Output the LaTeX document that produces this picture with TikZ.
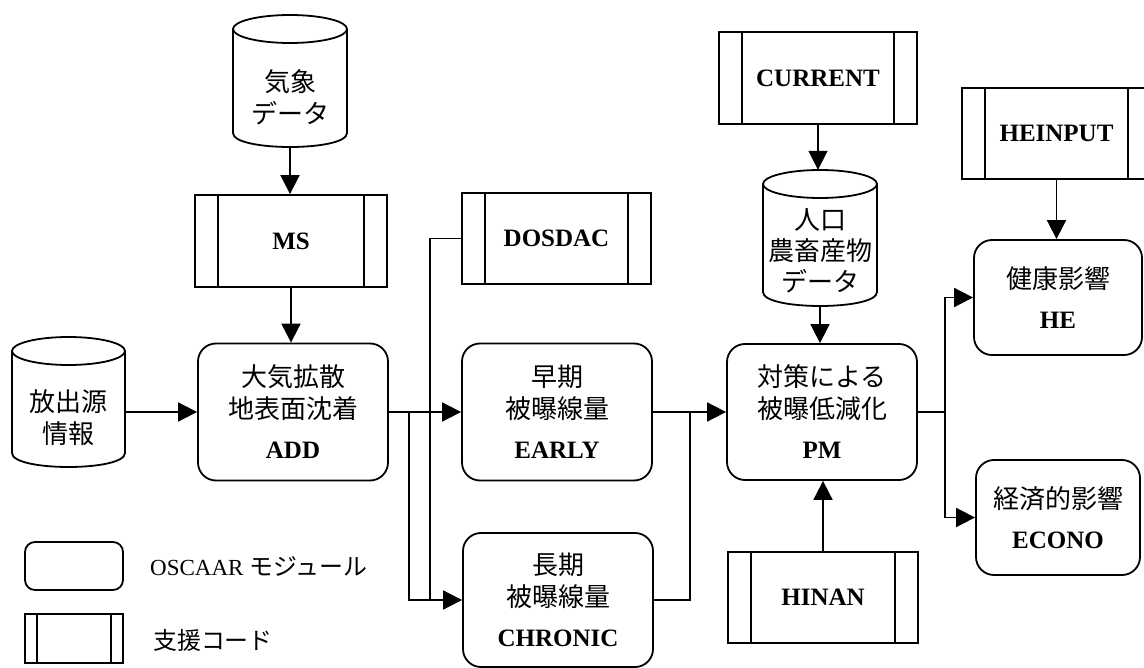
\documentclass[tikz,border=0pt]{standalone}
\usepackage{fontspec}
\setmainfont{Liberation Serif}
\newfontfamily\jp[Scale=1.04]{Noto Sans CJK JP}
\usetikzlibrary{arrows.meta,calc}
\tikzset{
 lw/.style={line width=1.8pt},
 mod/.style={draw, lw, rounded corners=18pt, align=center, inner sep=0pt, font=\bfseries\fontsize{25}{32}\selectfont},
 sup/.style={draw, lw, align=center, inner sep=0pt, font=\bfseries\fontsize{25}{30}\selectfont,
   path picture={\draw[lw] ([xshift=#1]path picture bounding box.north west) -- ([xshift=#1]path picture bounding box.south west)
     ([xshift=-#1]path picture bounding box.north east) -- ([xshift=-#1]path picture bounding box.south east);}},
 sup/.default=23pt,
 cyl/.style={inner sep=0pt, draw=none},
 cyltxt/.style={align=center, inner sep=0pt, font=\jp\fontsize{25}{32}\selectfont},
 legtxt/.style={anchor=west, inner sep=0pt, font=\fontsize{23}{28}\selectfont},
 arr/.style={lw, -{Triangle[length=19pt,width=19pt]}},
 con/.style={lw},
}
\newcommand\cylo[5]{%
 \draw[lw] ({(#1+#2)/2},{#3+#5}) ellipse [x radius={(#2-#1)/2}, y radius=#5];
 \draw[lw] (#1,{#3+#5}) -- (#1,{#4-#5}) .. controls (#1,{#4+#5/3}) and (#2,{#4+#5/3}) .. (#2,{#4-#5}) -- (#2,{#3+#5});}
\begin{document}
\begin{tikzpicture}[x=1pt,y=-1pt]
\useasboundingbox (0,0) rectangle (1144,668);
\clip (0,0) rectangle (1144,668);
% cylinders
\node[cyl, minimum width=114pt, minimum height=132pt] (met) at (290,81) {};
\cylo{233}{347}{15}{147}{14}
\node[cyltxt] (mett) at (290,97) {気象\\データ};
\node[cyl, minimum width=113pt, minimum height=130pt] (src) at (68.5,402) {};
\cylo{12}{125}{337}{467}{14}
\node[cyltxt] (srct) at (68.5,418) {放出源\\情報};
\node[cyl, minimum width=114pt, minimum height=136pt] (pop) at (820,238) {};
\cylo{763}{877}{170}{306}{14}
\node[cyltxt, font=\jp\fontsize{25}{31}\selectfont] (popt) at (820,251) {人口\\農畜産物\\データ};
% support codes
\node[sup, minimum width=192pt, minimum height=92pt] (ms) at (291,241) {MS};
\node[sup, minimum width=189pt, minimum height=91pt] (dosdac) at (556.5,238.5) {DOSDAC};
\node[sup, minimum width=198pt, minimum height=92pt] (current) at (818,78) {CURRENT};
\node[sup, minimum width=190pt, minimum height=91pt] (hinan) at (823,597.5) {HINAN};
\node[sup, minimum width=189pt, minimum height=91pt] (heinput) at (1056.5,133.5) {HEINPUT};
% modules
\node[mod, minimum width=190pt, minimum height=137pt] (add) at (293,412) {{\jp\mdseries 大気拡散}\\{\jp\mdseries 地表面沈着}\\[8pt]ADD};
\node[mod, minimum width=190pt, minimum height=137pt] (early) at (557,412) {{\jp\mdseries 早期}\\{\jp\mdseries 被曝線量}\\[8pt]EARLY};
\node[mod, minimum width=190pt, minimum height=134pt] (chronic) at (558,600) {{\jp\mdseries 長期}\\{\jp\mdseries 被曝線量}\\[8pt]CHRONIC};
\node[mod, minimum width=190pt, minimum height=136pt] (pm) at (822,412) {{\jp\mdseries 対策による}\\{\jp\mdseries 被曝低減化}\\[8pt]PM};
\node[mod, minimum width=168pt, minimum height=115pt] (he) at (1058,297.5) {{\jp\mdseries 健康影響}\\[8pt]HE};
\node[mod, minimum width=164pt, minimum height=115pt] (econo) at (1058,517.5) {{\jp\mdseries 経済的影響}\\[8pt]ECONO};
% legend
\node[mod, rounded corners=10pt, minimum width=98pt, minimum height=48pt] (legm) at (74,566) {};
\node[sup=12pt, minimum width=98pt, minimum height=49pt] (legs) at (74,638.5) {};
\node[legtxt] (legmt) at (150,566) {OSCAAR {\jp モジュール}};
\node[legtxt] (legst) at (153,640) {{\jp 支援コード}};
% junction coordinates
\coordinate (bx) at (409,412);
\coordinate (dx) at (430,412);
\coordinate (jx) at (690,412);
\coordinate (jr) at (945,412);
% connectors
\draw[arr] (met.south) -- (met.south |- ms.north);
\draw[arr] (ms.south) -- (ms.south |- add.north);
\draw[arr] (src.east |- add.west) -- (add.west);
\draw[arr] (add.east) -- (early.west);
\draw[arr] (bx) |- (chronic.west);
\draw[con] (dosdac.west) -| (dx |- chronic.west);
\draw[arr] (early.east) -- (pm.west);
\draw[con] (chronic.east) -| (jx);
\draw[arr] (current.south) -- (current.south |- pop.north);
\draw[arr] (pop.south) -- (pop.south |- pm.north);
\draw[arr] (hinan.north) -- (hinan.north |- pm.south);
\draw[con] (pm.east) -- (jr);
\draw[arr] (jr) |- (he.west);
\draw[arr] (jr) |- (econo.west);
\draw[arr] (heinput.south) -- (heinput.south |- he.north);
\end{tikzpicture}
\end{document}
